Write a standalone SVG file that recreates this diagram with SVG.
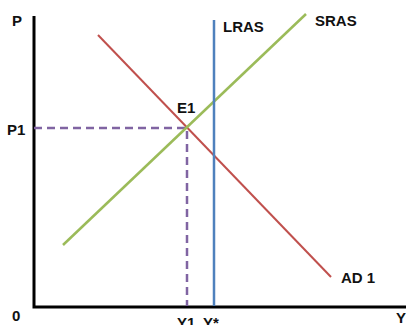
<svg xmlns="http://www.w3.org/2000/svg" width="406" height="325" viewBox="0 0 406 325">
<style>
text{font-family:"Liberation Sans",Arial,sans-serif;font-weight:bold;font-size:15px;fill:#111}
.ax{stroke:#000;stroke-width:3;fill:none}
.dash{stroke:#8064A2;stroke-width:2.5;stroke-dasharray:8 5;fill:none}
</style>
<rect width="406" height="325" fill="#fff"/>
<g id="axes">
<path class="ax" d="M34 16 V307 H406"/>
<text x="12" y="26">P</text>
<text x="12" y="321">0</text>
<text x="396" y="323">Y</text>
</g>
<g id="connectors">
<path class="dash" d="M34 128 H187 V306"/>
</g>
<g id="AD1">
<line x1="98" y1="35" x2="331" y2="277" stroke="#C0504D" stroke-width="2"/>
<text x="341" y="283">AD 1</text>
</g>
<g id="SRAS">
<line x1="63" y1="245" x2="306" y2="14" stroke="#9BBB59" stroke-width="2.5"/>
<text x="315" y="26">SRAS</text>
</g>
<g id="LRAS">
<line x1="214" y1="20" x2="214" y2="306" stroke="#4F81BD" stroke-width="2.5"/>
<text x="223" y="32">LRAS</text>
</g>
<g id="E1">
<text x="177" y="113">E1</text>
</g>
<g id="labels">
<text x="7" y="135">P1</text>
<text x="177" y="328">Y1</text>
<text x="203" y="328">Y*</text>
</g>
</svg>
